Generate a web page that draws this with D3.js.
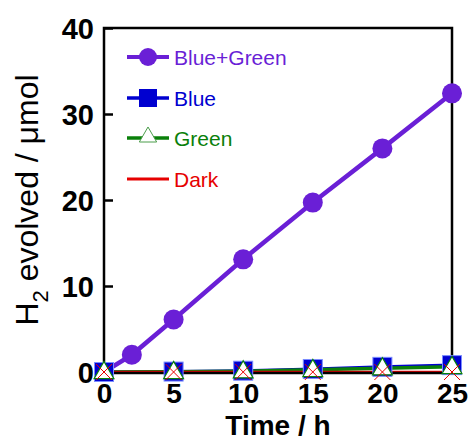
<!DOCTYPE html>
<html><head><meta charset="utf-8">
<script src="https://cdn.jsdelivr.net/npm/d3@7/dist/d3.min.js"></script>
<style>body{margin:0;background:#fff;} svg{display:block;font-family:Arial,"Liberation Sans",sans-serif;}</style>
</head><body>
<svg id="c" width="470" height="441"></svg>
<script>
const times = [0, 5, 10, 15, 20, 25];
const timesBG = [0, 2, 5, 10, 15, 20, 25];
const blueGreen = [0, 2.0, 6.1, 13.1, 19.7, 26.0, 32.4];
const blue = [0, 0.05, 0.15, 0.35, 0.6, 0.8];
const green = [0, 0.02, 0.1, 0.25, 0.45, 0.6];
const dark = [0, 0, 0, 0, 0, 0];
const xTicks = [0, 5, 10, 15, 20, 25];
const yTicks = [0, 10, 20, 30, 40];
const legendLabels = ["Blue+Green", "Blue", "Green", "Dark"];

const svg = d3.select("#c");
const L = 104, R = 452, T = 28, B = 372;
const x = d3.scaleLinear().domain([0, 25]).range([L, R]);
const y = d3.scaleLinear().domain([0, 40]).range([B, T]);

const C = {bg: "#6a1fd6", blue: "#0000d0", green: "#0a800a", red: "#e60000"};

// Axes
const yAxis = svg.append("g").attr("transform", `translate(${L},0)`)
  .call(d3.axisLeft(y).tickValues(yTicks).tickSize(-9).tickPadding(10).tickFormat(d3.format("d")));
yAxis.select(".domain").remove();
yAxis.selectAll(".tick line").attr("stroke", "#000").attr("stroke-width", 2.5);
yAxis.selectAll(".tick text").attr("font-size", 29).attr("font-weight", "bold").attr("fill", "#000")
  .attr("font-family", "Arial, 'Liberation Sans', sans-serif").attr("dy", "0.36em");

const xAxis = svg.append("g").attr("transform", `translate(0,${B})`)
  .call(d3.axisBottom(x).tickValues(xTicks).tickSize(0).tickPadding(11).tickFormat(d3.format("d")));
xAxis.select(".domain").remove();
xAxis.selectAll(".tick text").attr("font-size", 28).attr("font-weight", "bold").attr("fill", "#000")
  .attr("font-family", "Arial, 'Liberation Sans', sans-serif");

// Data lines
const line = d3.line().x(d => x(d[0])).y(d => y(d[1]));
const zipped = (xs, ys) => xs.map((t, i) => [t, ys[i]]);

svg.append("path").datum(zipped(timesBG, blueGreen)).attr("d", line)
  .attr("fill", "none").attr("stroke", C.bg).attr("stroke-width", 4.5);
svg.append("path").datum(zipped(times, blue)).attr("d", line)
  .attr("fill", "none").attr("stroke", C.blue).attr("stroke-width", 3);
svg.append("path").datum(zipped(times, green)).attr("d", line)
  .attr("fill", "none").attr("stroke", C.green).attr("stroke-width", 3.5);
svg.append("path").datum(zipped(times, dark)).attr("d", line)
  .attr("fill", "none").attr("stroke", C.red).attr("stroke-width", 2.5);

// Frame
svg.append("rect").attr("x", L).attr("y", T).attr("width", R - L).attr("height", B - T + 1)
  .attr("fill", "none").attr("stroke", "#000").attr("stroke-width", 2.5);

// Markers
svg.append("g").selectAll("circle").data(zipped(timesBG, blueGreen)).join("circle")
  .attr("cx", d => x(d[0])).attr("cy", d => y(d[1])).attr("r", 10).attr("fill", C.bg);
svg.append("g").selectAll("rect").data(zipped(times, blue)).join("rect")
  .attr("x", d => x(d[0]) - 9.5).attr("y", d => y(d[1]) - 9.5).attr("width", 19).attr("height", 19)
  .attr("fill", C.blue).attr("stroke", "#7a8cff").attr("stroke-width", 1);
const tri = d3.symbol().type(d3.symbolTriangle).size(170);
svg.append("g").selectAll("path").data(zipped(times, green)).join("path")
  .attr("transform", d => `translate(${x(d[0])},${y(d[1]) + 1})`).attr("d", tri)
  .attr("fill", "#fff").attr("stroke", C.green).attr("stroke-width", 1.2);
svg.append("g").selectAll("path").data(zipped(times, dark)).join("path")
  .attr("transform", d => `translate(${x(d[0])},${y(d[1])})`)
  .attr("d", "M-8,-8L8,8M-8,8L8,-8").attr("stroke", C.red).attr("stroke-width", 1).attr("fill", "none");

// Legend
const legY = [57, 98, 138, 179];
const legCol = [C.bg, C.blue, C.green, C.red];
const lg = svg.append("g");
legendLabels.forEach((lab, i) => {
  const yy = legY[i];
  lg.append("line").attr("x1", 127).attr("x2", 169).attr("y1", yy).attr("y2", yy)
    .attr("stroke", legCol[i]).attr("stroke-width", i === 0 ? 4 : (i === 3 ? 3 : 3.5));
  if (i === 0) lg.append("circle").attr("cx", 148).attr("cy", yy).attr("r", 9).attr("fill", C.bg);
  if (i === 1) lg.append("rect").attr("x", 139).attr("y", yy - 9).attr("width", 18).attr("height", 18).attr("fill", C.blue);
  if (i === 2) lg.append("path").attr("transform", `translate(148,${yy - 1})`).attr("d", d3.symbol().type(d3.symbolTriangle).size(130)())
    .attr("fill", "#fff").attr("stroke", "#4a9d4a").attr("stroke-width", 1);
  lg.append("text").attr("x", 174).attr("y", yy).attr("dy", "0.36em").attr("font-size", 21)
    .attr("fill", legCol[i]).text(lab);
});

// Axis titles
svg.append("text").attr("x", (L + R) / 2 - 0).attr("y", 435).attr("text-anchor", "middle")
  .attr("font-size", 28).attr("font-weight", "bold").attr("fill", "#000").text("Time / h");

const yt = svg.append("text").attr("transform", "translate(38,200) rotate(-90)")
  .attr("text-anchor", "middle").attr("font-size", 32).attr("fill", "#000");
yt.append("tspan").text("H");
yt.append("tspan").attr("font-size", 22).attr("dy", 10).text("2");
yt.append("tspan").attr("dy", -10).text(" evolved / μmol");
</script>
</body></html>
